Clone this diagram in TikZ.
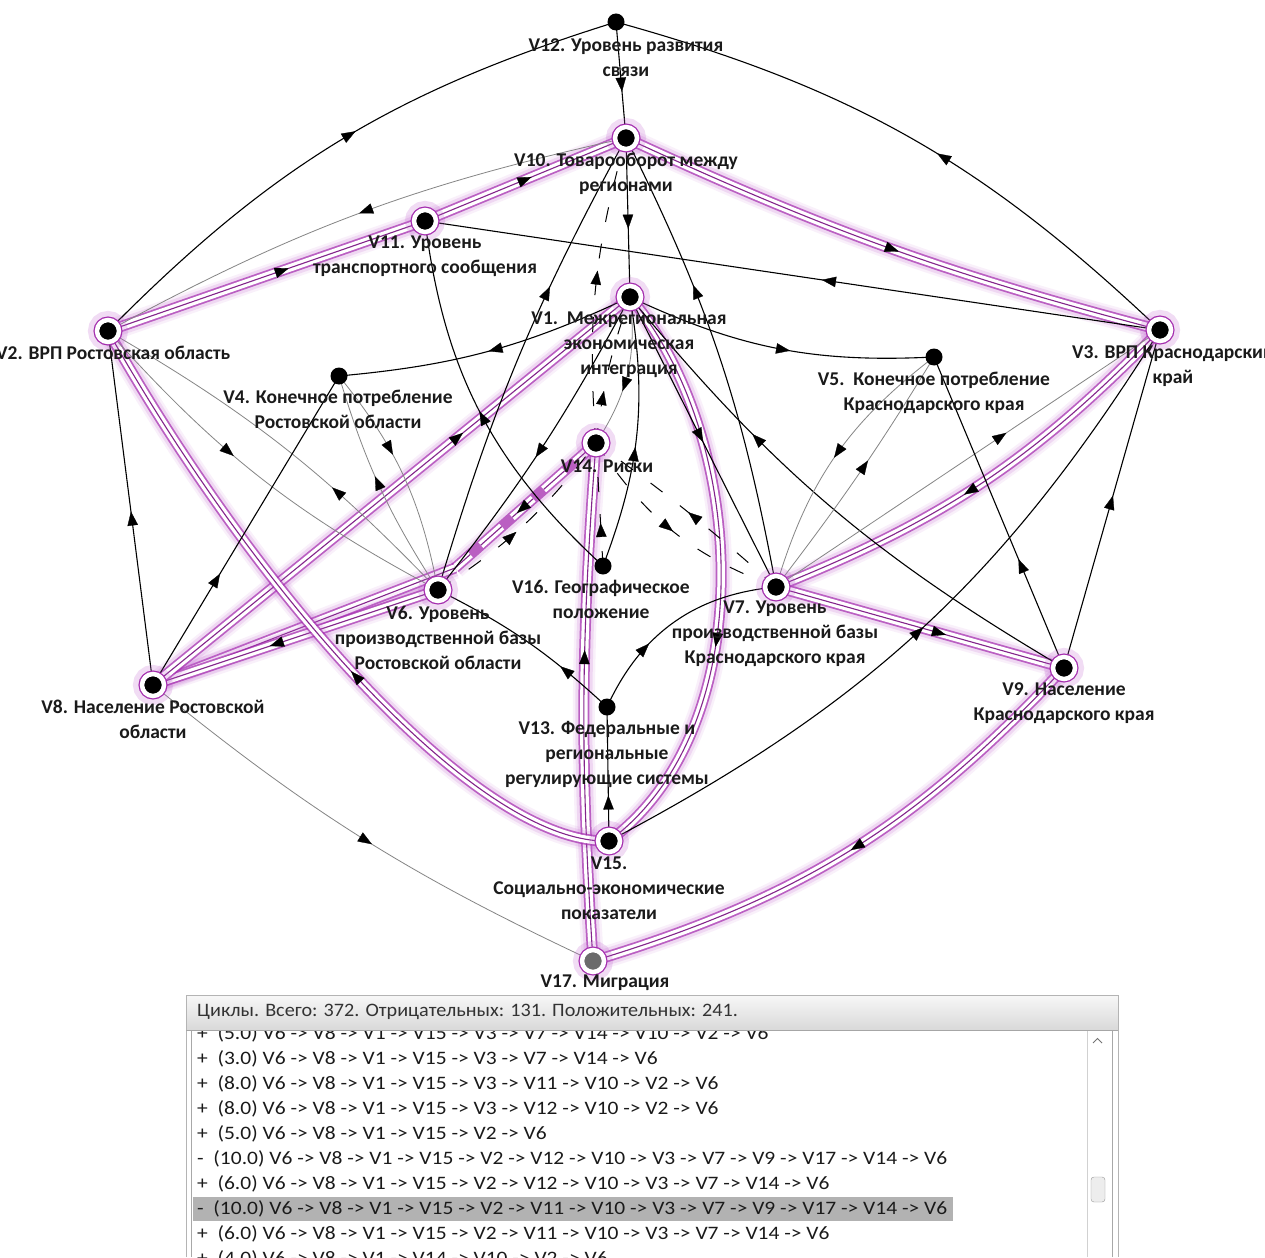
\documentclass[tikz,border=0pt]{standalone}
\usepackage{fontspec}
\usepackage{graphicx}
\setmainfont{Carlito}
\usetikzlibrary{arrows.meta,decorations.markings}

\definecolor{hlpurple}{HTML}{A42DAE}
\definecolor{glowpurple}{HTML}{C060D0}
\definecolor{thinline}{HTML}{858585}
\definecolor{labeltext}{HTML}{1A1A1A}
\definecolor{selrow}{HTML}{B2B2B2}
\definecolor{paneledge}{HTML}{B4B4B4}
\definecolor{listedge}{HTML}{A8A8A8}
\definecolor{migr}{HTML}{6B6B6B}

\tikzset{
  tip/.style={postaction={decorate, decoration={markings,
      mark=at position #1 with {\arrow{Triangle[length=14pt,width=10.5pt,line width=0.3pt,color=black,fill=black]}}}}},
  blk/.style={draw=black, line width=1.1pt},
  gry/.style={draw=thinline, line width=0.8pt},
  dsh/.style={draw=black, line width=1pt, dash pattern=on 15pt off 22pt},
  hl/.style={preaction={draw=glowpurple, line width=22pt, opacity=0.09},
             preaction={draw=glowpurple, line width=17pt, opacity=0.17},
             preaction={draw=hlpurple, line width=11pt, opacity=0.7},
             draw=white, line width=7.5pt,
             postaction={draw=hlpurple!80!black, line width=1.1pt}},
  hldash/.style={hl, dash pattern=on 28pt off 14pt},
  vtx/.style={circle, inner sep=0pt, minimum size=17pt, fill=black},
  hvtx/.style={circle, inner sep=0pt, minimum size=22pt, fill=black, draw=white, line width=4.5pt,
     preaction={draw=glowpurple, opacity=0.22, line width=18pt},
     preaction={draw=hlpurple, line width=7pt}},
  lbl/.style={align=center, inner sep=0pt, text=labeltext, font=\bfseries\fontsize{19.5}{25}\selectfont},
  rowtxt/.style={anchor=west, inner sep=0pt, text=labeltext, font=\fontsize{19}{20}\selectfont},
}
\newcommand\rowline[1]{\scalebox{1.13}[1]{#1}}

\begin{document}
\begin{tikzpicture}[x=1pt,y=1pt]
\useasboundingbox (0,0) rectangle (1265,-1257);
\fill[white] (0,0) rectangle (1265,-1257);

% vertex positions
\coordinate (V1) at (630,-297);
\coordinate (V2) at (108,-331);
\coordinate (V3) at (1160,-330);
\coordinate (V4) at (339,-376);
\coordinate (V5) at (934,-357);
\coordinate (V6) at (438,-590);
\coordinate (V7) at (776,-587);
\coordinate (V8) at (153,-685);
\coordinate (V9) at (1064,-668);
\coordinate (V10) at (626,-138);
\coordinate (V11) at (425,-221);
\coordinate (V12) at (616,-22);
\coordinate (V13) at (607,-707);
\coordinate (V14) at (596,-443);
\coordinate (V15) at (609,-841);
\coordinate (V16) at (603,-566);
\coordinate (V17) at (593,-961);
\coordinate (J) at (455,-568);

% selected cycle
\draw[hl, tip=0.57] (V2) -- (V11);
\draw[hl, tip=0.53] (V11) -- (V10);
\draw[hl, tip=0.52] (V10) to[bend right=5] (V3);
\draw[hl, tip=0.55] (V3) to[bend left=12] (V7);
\draw[hl, tip=0.59] (V7) -- (V9);
\draw[hl, tip=0.5] (V9) to[bend left=15] (V17);
\draw[hl, tip=0.6] (V17) to[bend left=4] (V14);
\draw[hldash, tip=0.56] (V14) -- (J);
\draw[hl] (J) -- (V8);
\draw[hl, tip=0.59] (V6) -- (V8);
\draw[hl, tip=0.65] (V8) -- (V1);
\draw[hl, tip=0.62] (V1) .. controls (750,-440) and (760,-730) .. (V15);
\draw[hl, tip=0.43] (V15) .. controls (480,-845) and (260,-600) .. (V2);

% other arcs
\draw[blk, tip=0.6] (V12) -- (V10);
\draw[blk, tip=0.53] (V2) to[bend left=14] (V12);
\draw[blk, tip=0.45] (V3) to[bend right=14] (V12);
\draw[blk, tip=0.57] (V10) -- (V1);
\draw[gry, tip=0.5] (V10) to[bend right=8] (V2);
\draw[blk, tip=0.46] (V3) -- (V11);
\draw[blk, tip=0.5] (V1) to[bend left=10] (V4);
\draw[blk, tip=0.54] (V1) to[bend right=14] (V5);
\draw[blk, tip=0.53] (V1) to[bend left=5] (V6);
\draw[blk, tip=0.66] (V6) to[bend left=6] (V10);
\draw[dsh, tip=0.56] (V14) to[bend left=10] (V10);
\draw[gry, tip=0.62] (V1) to[bend left=20] (V14);
\draw[dsh, tip=0.35] (V14) to[bend left=6] (V1);
\draw[dsh, tip=0.35] (V16) -- (V14);
\draw[blk, tip=0.45] (V16) to[bend right=15] (V1);
\draw[blk, tip=0.5] (V16) to[bend left=20] (V11);
\draw[blk, tip=0.5] (V1) -- (V7);
\draw[blk, tip=0.66] (V7) to[bend right=8] (V10);
\draw[blk, tip=0.68] (V9) to[bend left=10] (V1);
\draw[dsh, tip=0.45] (V6) to[bend right=10] (V14);
\draw[dsh, tip=0.5] (V7) to[bend right=3] (V14);
\draw[dsh, tip=0.5] (V14) to[bend right=18] (V7);
\draw[gry, tip=0.42] (V2) to[bend right=10] (V6);
\draw[gry, tip=0.35] (V6) to[bend right=8] (V2);
\draw[gry, tip=0.4] (V4) to[bend left=14] (V6);
\draw[gry, tip=0.55] (V6) to[bend left=8] (V4);
\draw[blk, tip=0.36] (V8) -- (V4);
\draw[blk, tip=0.49] (V8) -- (V2);
\draw[gry, tip=0.52] (V8) to[bend right=7] (V17);
\draw[blk, tip=0.3] (V13) to[bend right=8] (V6);
\draw[blk, tip=0.35] (V13) to[bend left=30] (V7);
\draw[blk, tip=0.34] (V15) -- (V13);
\draw[blk, tip=0.5] (V15) to[bend right=15] (V3);
\draw[gry, tip=0.6] (V7) -- (V3);
\draw[gry, tip=0.5] (V5) to[bend right=18] (V7);
\draw[gry, tip=0.56] (V7) to[bend right=3] (V5);
\draw[blk, tip=0.35] (V9) -- (V5);
\draw[blk, tip=0.51] (V9) -- (V3);

% vertices
\node[hvtx] (n1) at (V1) {};
\node[hvtx] (n2) at (V2) {};
\node[hvtx] (n3) at (V3) {};
\node[vtx] (n4) at (V4) {};
\node[vtx] (n5) at (V5) {};
\node[hvtx] (n6) at (V6) {};
\node[hvtx] (n7) at (V7) {};
\node[hvtx] (n8) at (V8) {};
\node[hvtx] (n9) at (V9) {};
\node[hvtx] (n10) at (V10) {};
\node[hvtx] (n11) at (V11) {};
\node[vtx] (n12) at (V12) {};
\node[vtx] (n13) at (V13) {};
\node[hvtx] (n14) at (V14) {};
\node[hvtx] (n15) at (V15) {};
\node[vtx] (n16) at (V16) {};
\node[hvtx, fill=migr] (n17) at (V17) {};

% vertex labels
\node[lbl] (t12) at (626,-57.5) {V12. Уровень развития\\связи};
\node[lbl] (t10) at (626,-173.5) {V10. Товарооборот между\\регионами};
\node[lbl] (t11) at (425,-256.5) {V11. Уровень\\транспортного сообщения};
\node[lbl] (t1) at (629,-345) {V1.\ \ Межрегиональная\\экономическая\\интеграция};
\node[lbl, anchor=west] (t2) at (-4,-353) {V2. ВРП Ростовская область};
\node[lbl] (t3) at (1173,-365.5) {V3. ВРП Краснодарский\\край};
\node[lbl] (t4) at (338,-409.5) {V4. Конечное потребление\\Ростовской области};
\node[lbl] (t5) at (934,-392.5) {V5.\ \ Конечное потребление\\Краснодарского края};
\node[lbl] (t14) at (607,-466) {V14. Риски};
\node[lbl] (t16) at (601,-599.5) {V16. Географическое\\положение};
\node[lbl] (t6) at (438,-638) {V6. Уровень\\производственной базы\\Ростовской области};
\node[lbl] (t7) at (775,-634) {V7. Уровень\\производственной базы\\Краснодарского края};
\node[lbl] (t8) at (153,-719.5) {V8. Население Ростовской\\области};
\node[lbl] (t9) at (1064,-703.5) {V9. Население\\Краснодарского края};
\node[lbl] (t13) at (607,-754) {V13. Федеральные и\\региональные\\регулирующие системы};
\node[lbl] (t15) at (609,-888) {V15.\\Социально-экономические\\показатели};
\node[lbl] (t17) at (605,-983) {V17. Миграция};

% cycle list panel
\shade[top color=black!3, bottom color=black!15] (186,-995) rectangle (1118,-1030);
\draw[paneledge] (186,-1257) -- (186,-995) -- (1118,-995) -- (1118,-1257);
\draw[black!35] (186,-1030) -- (1118,-1030);
\node[rowtxt, text=black!80] (head) at (197,-1012) {\scalebox{1.062}[1]{Циклы. Всего: 372. Отрицательных: 131. Положительных: 241.}};
\fill[white] (191,-1031) rectangle (1112,-1257);
\draw[listedge] (191,-1257) -- (191,-1031);
\draw[listedge] (1112,-1257) -- (1112,-1031);
\draw[black!18] (1087,-1031) -- (1087,-1257);
\draw[black!55, line width=0.8pt] (1093,-1043) -- (1097.5,-1038.5) -- (1102,-1043);
\draw[rounded corners=3pt, fill=black!7, draw=black!40] (1091,-1177) rectangle (1105,-1202);
\fill[selrow] (193,-1197) rectangle (953,-1221);
\begin{scope}
\clip (191,-1031) rectangle (1087,-1257);
\node[rowtxt] (r1) at (197,-1034) {\rowline{+\ \ (5.0) V6 -> V8 -> V1 -> V15 -> V3 -> V7 -> V14 -> V10 -> V2 -> V6}};
\node[rowtxt] (r2) at (197,-1059) {\rowline{+\ \ (3.0) V6 -> V8 -> V1 -> V15 -> V3 -> V7 -> V14 -> V6}};
\node[rowtxt] (r3) at (197,-1084) {\rowline{+\ \ (8.0) V6 -> V8 -> V1 -> V15 -> V3 -> V11 -> V10 -> V2 -> V6}};
\node[rowtxt] (r4) at (197,-1109) {\rowline{+\ \ (8.0) V6 -> V8 -> V1 -> V15 -> V3 -> V12 -> V10 -> V2 -> V6}};
\node[rowtxt] (r5) at (197,-1134) {\rowline{+\ \ (5.0) V6 -> V8 -> V1 -> V15 -> V2 -> V6}};
\node[rowtxt] (r6) at (197,-1159) {\rowline{-\ \ (10.0) V6 -> V8 -> V1 -> V15 -> V2 -> V12 -> V10 -> V3 -> V7 -> V9 -> V17 -> V14 -> V6}};
\node[rowtxt] (r7) at (197,-1184) {\rowline{+\ \ (6.0) V6 -> V8 -> V1 -> V15 -> V2 -> V12 -> V10 -> V3 -> V7 -> V14 -> V6}};
\node[rowtxt] (r8) at (197,-1209) {\rowline{-\ \ (10.0) V6 -> V8 -> V1 -> V15 -> V2 -> V11 -> V10 -> V3 -> V7 -> V9 -> V17 -> V14 -> V6}};
\node[rowtxt] (r9) at (197,-1234) {\rowline{+\ \ (6.0) V6 -> V8 -> V1 -> V15 -> V2 -> V11 -> V10 -> V3 -> V7 -> V14 -> V6}};
\node[rowtxt] (r10) at (197,-1259) {\rowline{+\ \ (4.0) V6 -> V8 -> V1 -> V14 -> V10 -> V2 -> V6}};
\end{scope}
\end{tikzpicture}
\end{document}
